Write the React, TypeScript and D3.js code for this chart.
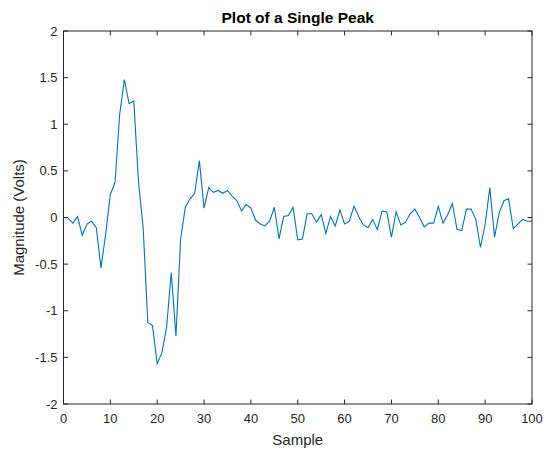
import React from "react";
import * as d3 from "d3";

const samples: number[] = d3.range(1, 101);
const magnitude: number[] = [
  -0.01, -0.06, 0.01, -0.19, -0.07, -0.04, -0.11, -0.54, -0.18, 0.25,
  0.375, 1.11, 1.48, 1.22, 1.25, 0.39, -0.11, -1.125, -1.16, -1.57,
  -1.45, -1.18, -0.59, -1.27, -0.23, 0.11, 0.2, 0.26, 0.61, 0.1,
  0.32, 0.27, 0.29, 0.26, 0.29, 0.23, 0.18, 0.07, 0.14, 0.1,
  -0.03, -0.07, -0.09, -0.04, 0.11, -0.23, 0.01, 0.02, 0.11, -0.24,
  -0.23, 0.04, 0.04, -0.05, 0.03, -0.17, 0.01, -0.09, 0.08, -0.07,
  -0.04, 0.12, 0.01, -0.08, -0.11, -0.02, -0.13, 0.07, 0.06, -0.21,
  0.06, -0.08, -0.05, 0.04, 0.09, 0.0, -0.1, -0.06, -0.06, 0.12,
  -0.06, 0.03, 0.15, -0.13, -0.14, 0.09, 0.09, -0.02, -0.32, -0.07,
  0.32, -0.21, 0.05, 0.18, 0.2, -0.12, -0.07, -0.02, -0.04, -0.04,
];
const xTicks: number[] = [0, 10, 20, 30, 40, 50, 60, 70, 80, 90, 100];
const yTicks: number[] = [-2, -1.5, -1, -0.5, 0, 0.5, 1, 1.5, 2];
const title = "Plot of a Single Peak";
const xLabel = "Sample";
const yLabel = "Magnitude (Volts)";

export default function App() {
  const W = 547, H = 450;
  const L = 63.5, R = 532, T = 31, B = 404;
  const x = d3.scaleLinear().domain([0, 100]).range([L, R]);
  const y = d3.scaleLinear().domain([-2, 2]).range([B, T]);
  const line = d3
    .line<number>()
    .x((_, i) => x(samples[i]))
    .y((d) => y(d));
  const axisColor = "#262626";
  const font = "'Liberation Sans', Arial, Helvetica, sans-serif";
  const tl = 4.5;
  return (
    <svg
      width={W}
      height={H}
      style={{ position: "absolute", left: 0, top: 0, background: "#fff" }}
      fontFamily={font}
    >
      <rect x={0} y={0} width={W} height={H} fill="#fff" />
      <path d={line(magnitude) || ""} fill="none" stroke="#0072BD" strokeWidth={1.1} />
      <rect x={L} y={T} width={R - L} height={B - T} fill="none" stroke={axisColor} strokeWidth={1} />
      {xTicks.map((t) => (
        <g key={"x" + t}>
          <line x1={x(t)} x2={x(t)} y1={B} y2={B - tl} stroke={axisColor} />
          <line x1={x(t)} x2={x(t)} y1={T} y2={T + tl} stroke={axisColor} />
          <text x={x(t)} y={B + 19} textAnchor="middle" fontSize={13} fill={axisColor}>
            {t}
          </text>
        </g>
      ))}
      {yTicks.map((t) => (
        <g key={"y" + t}>
          <line x1={L} x2={L + tl} y1={y(t)} y2={y(t)} stroke={axisColor} />
          <line x1={R} x2={R - tl} y1={y(t)} y2={y(t)} stroke={axisColor} />
          <text x={L - 6} y={y(t) + 4.5} textAnchor="end" fontSize={13} fill={axisColor}>
            {t}
          </text>
        </g>
      ))}
      <text x={(L + R) / 2} y={22.5} textAnchor="middle" fontSize={15.5} fontWeight="bold" fill="#000">
        {title}
      </text>
      <text x={(L + R) / 2} y={445} textAnchor="middle" fontSize={15} fill={axisColor}>
        {xLabel}
      </text>
      <text
        transform={`translate(24,${(T + B) / 2}) rotate(-90)`}
        textAnchor="middle"
        fontSize={15}
        fill={axisColor}
      >
        {yLabel}
      </text>
    </svg>
  );
}
